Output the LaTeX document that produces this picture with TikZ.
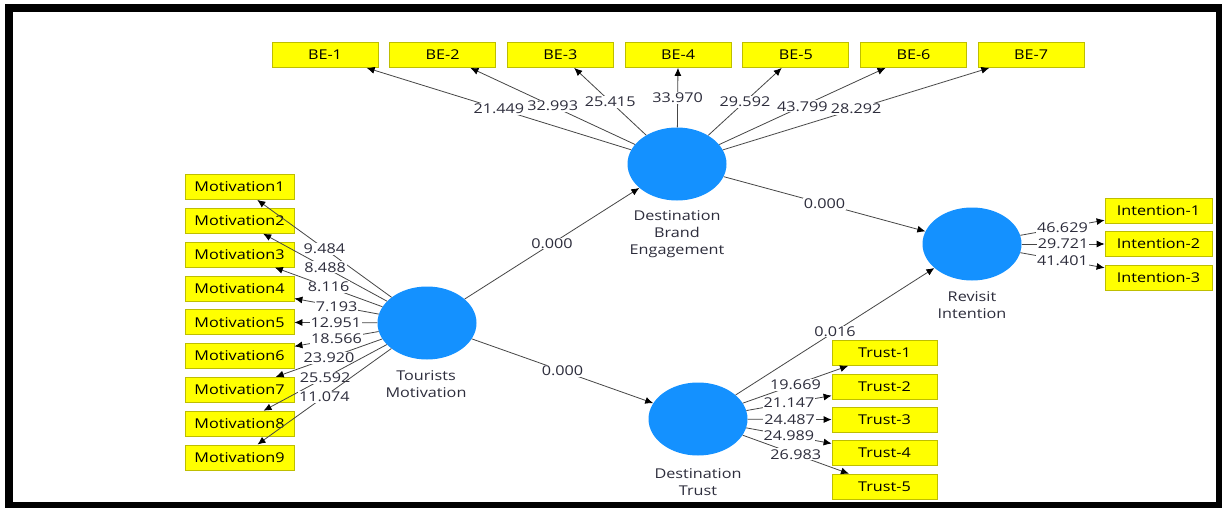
\documentclass[tikz,border=0pt]{standalone}
\usepackage{fontspec}
\setmainfont[FakeStretch=1.2]{Open Sans}
\usepackage{tikz}
\usetikzlibrary{arrows.meta,positioning,shapes.geometric}
\definecolor{lvblue}{RGB}{20,145,255}
\definecolor{itemyellow}{RGB}{255,255,0}
\definecolor{itemedge}{RGB}{190,190,0}
\definecolor{pathgray}{RGB}{70,70,70}
\definecolor{numgray}{RGB}{45,45,60}

\begin{document}
\begin{tikzpicture}[x=1pt,y=-1pt,
    font=\fontsize{13.5}{17}\selectfont,
    lv/.style={ellipse, fill=lvblue, minimum width=99pt, minimum height=73pt, inner sep=0pt},
    item/.style={rectangle, fill=itemyellow, draw=itemedge, line width=0.8pt,
      minimum width=106pt, minimum height=25pt, inner sep=0pt},
    lvname/.style={align=center, text=numgray, inner sep=0pt},
    load/.style={draw=pathgray, line width=0.8pt, -{Latex[length=8pt,width=7pt,color=black]}},
    coef/.style={fill=white, text=numgray, inner sep=1pt}]
    \useasboundingbox (0,0) rectangle (1222,508);
    % frame
    \fill[black] (5,4) rectangle (1222,508);
    \fill[white] (13,12.5) rectangle (1216,502);

    % latent variables
    \node[lv] (tm)  at (427,323) {};
    \node[lv] (bee) at (677,164) {};
    \node[lv] (dt)  at (698,419) {};
    \node[lv] (ri)  at (972,244) {};
    \node[lvname] (tmname)  at (426,384)   {Tourists\\Motivation};
    \node[lvname] (beename) at (677,234)   {Destination\\Brand\\Engagement};
    \node[lvname] (dtname)  at (698,482.5) {Destination\\Trust};
    \node[lvname] (riname)  at (972,305.5) {Revisit\\Intention};

    % indicators
    \foreach \i in {1,...,7}
      \node[item] (be\i) at ({325+117.7*(\i-1)},55) {BE-\i};
    \foreach \i in {1,...,9}
      \node[item, minimum width=109pt] (mot\i) at (239.5,{187+33.8*(\i-1)}) {Motivation\i};
    \foreach \i in {1,...,5}
      \node[item, minimum width=105pt] (tr\i) at (884.5,{353+33.4*(\i-1)}) {Trust-\i};
    \foreach \i in {1,...,3}
      \node[item, minimum width=107pt] (int\i) at (1158.5,{210.5+33.5*(\i-1)}) {Intention-\i};

    % outer loadings
    \foreach \i/\v in {1/21.449,2/32.993,3/25.415,4/33.970,5/29.592,6/43.799,7/28.292}
      \draw[load] (bee) -- node[coef] {\v} (be\i);
    \foreach \i/\v in {1/9.484,2/8.488,3/8.116,4/7.193,5/12.951,6/18.566,7/23.920,8/25.592,9/11.074}
      \draw[load] (tm) -- node[coef] {\v} (mot\i);
    \foreach \i/\v in {1/19.669,2/21.147,3/24.487,4/24.989,5/26.983}
      \draw[load] (dt) -- node[coef] {\v} (tr\i);
    \foreach \i/\v in {1/46.629,2/29.721,3/41.401}
      \draw[load] (ri) -- node[coef] {\v} (int\i);

    % inner model
    \draw[load] (tm)  -- node[coef] {0.000} (bee);
    \draw[load] (tm)  -- node[coef] {0.000} (dt);
    \draw[load] (bee) -- node[coef] {0.000} (ri);
    \draw[load] (dt)  -- node[coef] {0.016} (ri);
\end{tikzpicture}
\end{document}
